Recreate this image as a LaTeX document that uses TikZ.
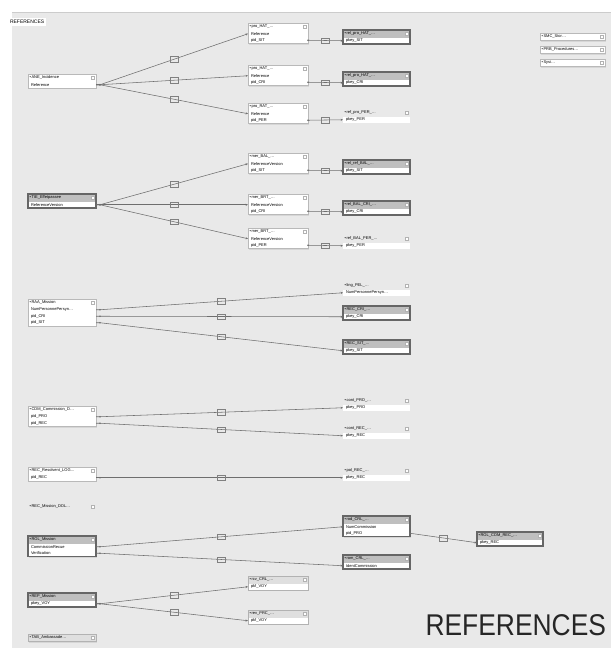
\documentclass[tikz,border=0pt]{standalone}
\usepackage{fontspec}
\setmainfont{Liberation Sans}
\usetikzlibrary{calc,arrows.meta,shadows}
\definecolor{canvas}{HTML}{E9E9E9}
\definecolor{lineg}{HTML}{6E6E6E}
\tikzset{
  every node/.style={font=\fontsize{4}{4.6}\selectfont, inner sep=0pt, outer sep=0pt},
  hdr/.style={anchor=north west, minimum height=7.5pt, inner xsep=1.5pt, align=left},
  fld/.style={anchor=north west, minimum height=6.5pt, inner xsep=1.5pt, align=left},
  boxn/.style={fill=white, draw=gray!55, line width=.5pt, drop shadow={opacity=.18,shadow xshift=1pt,shadow yshift=-1pt}},
  boxd/.style={fill=white, draw=black!60, line width=1.1pt, drop shadow={opacity=.2,shadow xshift=1pt,shadow yshift=-1pt}},
  boxm/.style={fill=white, draw=gray!60, line width=.6pt, drop shadow={opacity=.18,shadow xshift=1pt,shadow yshift=-1pt}},
  boxp/.style={fill=white, draw=none},
  hdrn/.style={fill=white},
  hdrd/.style={fill=gray!50},
  hdrm/.style={fill=gray!25},
  hdrp/.style={fill=canvas},
  framen/.style={draw=gray!55, line width=.5pt},
  framed/.style={draw=black!60, line width=1.1pt},
  framem/.style={draw=gray!60, line width=.6pt},
  framep/.style={draw=none},
  iconst/.style={draw=gray!60, line width=.3pt, fill=white},
  conn/.style={draw=lineg, line width=.55pt, -{Stealth[length=2.4pt,width=2pt]}},
  lbl/.style={draw=black!50, line width=.4pt, minimum width=8pt, minimum height=5.5pt},
  dot/.style={circle, fill=lineg, minimum size=1.6pt},
}
% #1 name, #2 x, #3 y, #4 width, #5 kind, #6 title, #7 number of fields, #8 fields
\newcommand\dbt[8]{%
  \pgfmathsetmacro\tw{#4-3}%
  \pgfmathsetmacro\fw{#4-6}%
  \path[box#5] (#2,#3) rectangle ++(#4,{7.5+#7*6.5});%
  \node[hdr,hdr#5,text width=\tw pt] (#1) at (#2,#3) {\textbullet\,#6};%
  \foreach \f [count=\i] in {#8}{%
    \node[fld,text width=\fw pt,inner xsep=3pt] (#1-\i) at ($(#1.south west)+(0,{(\i-1)*6.5})$) {\f};}%
  \draw[frame#5] (#2,#3) rectangle ++(#4,{7.5+#7*6.5});%
  \draw[iconst] ($(#1.north east)+(-5,2)$) rectangle ++(3,3);%
}
% header-only table
\newcommand\dbh[6]{%
  \pgfmathsetmacro\tw{#4-3}%
  \path[box#5] (#2,#3) rectangle ++(#4,7.5);%
  \node[hdr,hdr#5,text width=\tw pt] (#1) at (#2,#3) {\textbullet\,#6};%
  \draw[frame#5] (#2,#3) rectangle ++(#4,7.5);%
  \draw[iconst] ($(#1.north east)+(-5,2)$) rectangle ++(3,3);%
}
\begin{document}
\begin{tikzpicture}[x=1pt,y=-1pt]
\useasboundingbox (0,0) rectangle (611,648);
\fill[white] (0,0) rectangle (611,648);
\fill[canvas] (12,12) rectangle (611,648);
\draw[gray!40, line width=.4pt] (12,12) -- (611,12);

\node[fill=white, anchor=west, inner xsep=2pt, minimum height=8pt, font=\fontsize{5}{6}\selectfont] (title) at (8,22) {REFERENCES};

% ---------- left column ----------
\dbt{ane}{28}{74}{68}{n}{ANE\_Incidence}{1}{Reference}
\dbt{tie}{28}{194}{68}{d}{TIE\_Effetpassee}{1}{ReferenceVersion}
\dbt{raa}{28}{299}{68}{n}{RAA\_Mission}{3}{NumPersonnePersyn\ldots,pid\_CRI,pid\_SIT}
\dbt{cdm}{28}{406}{68}{n}{CDM\_Commission\_D\ldots}{2}{pid\_PRO,pid\_REC}
\dbt{rec}{28}{467}{68}{n}{REC\_Resolvent\_LOG\ldots}{1}{pid\_REC}
\dbh{recm}{28}{503}{68}{p}{REC\_Mission\_DOL\ldots}
\dbt{rol}{28}{536}{68}{d}{ROL\_Mission}{2}{CommissionRecue,Verification}
\dbt{rep}{28}{593}{68}{d}{REP\_Mission}{1}{pkey\_VOY}
\dbh{tab}{28}{634}{68}{m}{TAB\_Ambassade\ldots}

% ---------- middle column ----------
\dbt{ph1}{248}{23}{60}{n}{pro\_HAT\_\ldots}{2}{Reference,pid\_SIT}
\dbt{ph2}{248}{65}{60}{n}{pro\_HAT\_\ldots}{2}{Reference,pid\_CRI}
\dbt{pr}{248}{103}{60}{n}{pro\_RAT\_\ldots}{2}{Reference,pid\_PER}
\dbt{mb1}{248}{153}{60}{n}{mer\_BAL\_\ldots}{2}{ReferenceVersion,pid\_SIT}
\dbt{mb2}{248}{194}{60}{n}{mer\_BRT\_\ldots}{2}{ReferenceVersion,pid\_CRI}
\dbt{mb3}{248}{228}{60}{n}{mer\_BRT\_\ldots}{2}{ReferenceVersion,pid\_PER}
\dbt{rcv}{248}{576}{60}{m}{rcv\_CRL\_\ldots}{1}{pkf\_VOY}
\dbt{rev}{248}{610}{60}{m}{rev\_PRC\_\ldots}{1}{pkf\_VOY}

% ---------- right column ----------
\dbt{r1}{343}{30}{67}{d}{rel\_pro\_HAT\_\ldots}{1}{pkey\_SIT}
\dbt{r2}{343}{72}{67}{d}{rel\_pro\_HAT\_\ldots}{1}{pkey\_CRI}
\dbt{r3}{343}{109}{67}{p}{ref\_pro\_PER\_\ldots}{1}{pkey\_PER}
\dbt{r4}{343}{160}{67}{d}{rel\_ref\_BAL\_\ldots}{1}{pkey\_SIT}
\dbt{r5}{343}{201}{67}{d}{rel\_BAL\_CRI\_\ldots}{1}{pkey\_CRI}
\dbt{r6}{343}{235}{67}{p}{ref\_BAL\_PER\_\ldots}{1}{pkey\_PER}
\dbt{r7}{343}{282}{67}{p}{ling\_PEL\_\ldots}{1}{NumPersonnePersyn\ldots}
\dbt{r8}{343}{306}{67}{d}{REC\_CRI\_\ldots}{1}{pkey\_CRI}
\dbt{r9}{343}{340}{67}{d}{REC\_SIT\_\ldots}{1}{pkey\_SIT}
\dbt{r10}{343}{397}{67}{p}{cont\_PRO\_\ldots}{1}{pkey\_PRO}
\dbt{r11}{343}{425}{67}{p}{cont\_REC\_\ldots}{1}{pkey\_REC}
\dbt{r12}{343}{467}{67}{p}{pol\_REC\_\ldots}{1}{pkey\_REC}
\dbt{r13}{343}{516}{67}{d}{rod\_CRL\_\ldots}{2}{NumCommission,pid\_PRO}
\dbt{r14}{343}{555}{67}{d}{rom\_CRL\_\ldots}{1}{IdentCommission}
\dbt{rr}{477}{532}{66}{d}{ROL\_COM\_REC\_\ldots}{1}{pkey\_REC}

% ---------- top right ----------
\dbh{t1}{540}{33}{65}{n}{SMC\_Stor\ldots}
\dbh{t2}{540}{46}{65}{n}{PRB\_Procedures\ldots}
\dbh{t3}{540}{59}{65}{n}{Sysi\ldots}

% ---------- connectors ----------
\foreach \s/\t in {ane-1/ph1-1, ane-1/ph2-1, ane-1/pr-1,
                   tie-1/mb1-1, tie-1/mb2-1, tie-1/mb3-1,
                   raa-1/r7-1, raa-2/r8-1, raa-3/r9-1,
                   cdm-1/r10-1, cdm-2/r11-1, rec-1/r12-1,
                   rol-1/r13-1, rol-2/r14-1,
                   rep-1/rcv-1, rep-1/rev-1}{
  \draw[conn] (\s.east) -- ++(4,0) -- node[lbl]{} (\t.west);
  \node[dot] at ($(\s.east)+(4,0)$) {};
}
\foreach \s/\t in {ph1-2/r1-1, ph2-2/r2-1, pr-2/r3-1,
                   mb1-2/r4-1, mb2-2/r5-1, mb3-2/r6-1, r13-2/rr-1}{
  \draw[conn] (\s.east) -- node[lbl]{} (\t.west);
  \node[dot] at (\s.east) {};
}

\node[anchor=south east, font=\fontsize{30}{30}\selectfont, text=black!85, xscale=.88] (big) at (606,636) {REFERENCES};
\end{tikzpicture}
\end{document}
